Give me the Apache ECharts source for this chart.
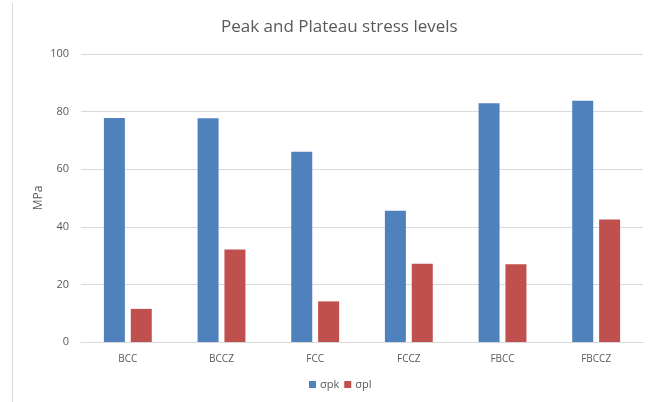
<!DOCTYPE html>
<html>
<head>
<meta charset="utf-8">
<script src="https://cdn.jsdelivr.net/npm/echarts@6/dist/echarts.min.js"></script>
<style>
html, body { margin: 0; padding: 0; background: #fff; }
#chart { width: 659px; height: 402px; }
</style>
</head>
<body>
<div id="chart"></div>
<script>
var categories = ['BCC', 'BCCZ', 'FCC', 'FCCZ', 'FBCC', 'FBCCZ'];
var peakValues = [77.8, 77.7, 66.1, 45.6, 82.9, 83.8];
var plateauValues = [11.5, 32.1, 14.1, 27.2, 27.0, 42.5];
var seriesNames = ['σpk', 'σpl'];

var textColor = '#595959';
var option = {
    animation: false,
    title: {
        text: 'Peak and Plateau stress levels',
        left: 216,
        top: 14,
        textStyle: { fontFamily: 'Open Sans', fontSize: 17, fontWeight: 'normal', color: textColor }
    },
    legend: {
        data: seriesNames,
        bottom: 7,
        left: 304,
        itemWidth: 7,
        itemHeight: 7,
        itemGap: 5,
        icon: 'rect',
        textStyle: { fontFamily: 'Open Sans', fontSize: 11, color: textColor, padding: [0, 0, 0, -1] }
    },
    grid: { left: 81, right: 16, top: 54, bottom: 60 },
    xAxis: {
        type: 'category',
        data: categories,
        axisLine: { lineStyle: { color: '#d9d9d9' } },
        axisTick: { show: false },
        axisLabel: { fontFamily: 'Open Sans', fontSize: 10, color: textColor, margin: 12 }
    },
    yAxis: {
        type: 'value',
        min: 0,
        max: 100,
        interval: 20,
        name: 'MPa',
        nameLocation: 'middle',
        nameGap: 36,
        nameMoveOverlap: false,
        nameTextStyle: { fontFamily: 'Open Sans', fontSize: 12, color: textColor },
        axisLine: { show: false },
        axisTick: { show: false },
        splitLine: { lineStyle: { color: '#d9d9d9' } },
        axisLabel: { fontFamily: 'Open Sans', fontSize: 11, color: textColor, margin: 12 }
    },
    graphic: [{
        type: 'line',
        shape: { x1: 12.5, y1: 3, x2: 12.5, y2: 402 },
        style: { stroke: '#d9d9d9', lineWidth: 1 }
    }],
    series: [
        {
            name: seriesNames[0],
            type: 'bar',
            data: peakValues,
            barWidth: 21,
            barGap: '28%',
            itemStyle: { color: '#4F81BD' }
        },
        {
            name: seriesNames[1],
            type: 'bar',
            data: plateauValues,
            barWidth: 21,
            itemStyle: { color: '#C0504D' }
        }
    ]
};
var myChart = echarts.init(document.getElementById('chart'));
myChart.setOption(option);
</script>
</body>
</html>
